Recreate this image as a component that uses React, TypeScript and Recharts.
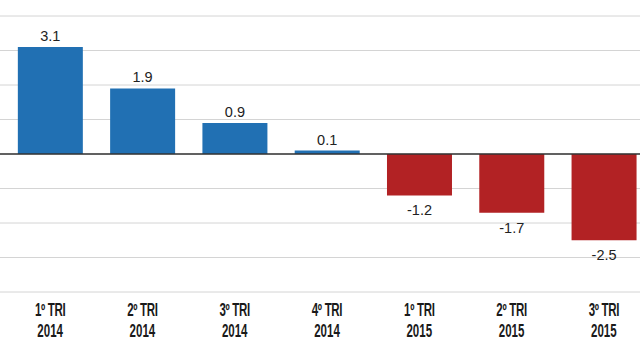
import React from "react";
import { BarChart, Bar, XAxis, YAxis, CartesianGrid, ReferenceLine, LabelList, Cell } from "recharts";

const quarters = ["1º TRI", "2º TRI", "3º TRI", "4º TRI", "1º TRI", "2º TRI", "3º TRI"];
const years = ["2014", "2014", "2014", "2014", "2015", "2015", "2015"];
const values = [3.1, 1.9, 0.9, 0.1, -1.2, -1.7, -2.5];
const yTicks = [-4, -3, -2, -1, 0, 1, 2, 3, 4];

const BLUE = "#2170b3";
const RED = "#b22224";

const data = quarters.map((q, i) => ({ key: `${q} ${years[i]}`, quarter: q, year: years[i], value: values[i] }));

// condensed look: no narrow font installed, so squeeze Liberation Sans horizontally
function QuarterTick(props: any) {
  const { x, y, index } = props;
  const item = data[index];
  if (!item) return null;
  const font = "'Liberation Sans', Arial, sans-serif";
  return (
    <g transform={`translate(${x}, ${y}) scale(0.64, 1)`}>
      <text x={0} y={24} textAnchor="middle" fill="#1a1a1a" fontSize={18} fontWeight="bold" letterSpacing={-0.5} fontFamily={font}>
        {item.quarter}
      </text>
      <text x={0} y={45} textAnchor="middle" fill="#1a1a1a" fontSize={18} fontWeight="bold" fontFamily={font}>
        {item.year}
      </text>
    </g>
  );
}

function ValueLabel(props: any) {
  const { x, y, width, height, value } = props;
  const top = Math.min(y, y + height);
  const bottom = Math.max(y, y + height);
  const ty = value >= 0 ? top - 6 : bottom + 20;
  return (
    <text x={x + width / 2} y={ty} textAnchor="middle" fill="#222" fontSize={14.5} fontFamily="'Liberation Sans', Arial, sans-serif">
      {value}
    </text>
  );
}

export default function App() {
  return (
    <div style={{ position: "fixed", left: 0, top: 0, width: 640, height: 362, overflow: "hidden", background: "#fff" }}>
      <BarChart
        width={660}
        height={362}
        data={data}
        margin={{ top: 16, right: 0, bottom: 0, left: 0 }}
        barCategoryGap="15%"
      >
        <CartesianGrid horizontal vertical={false} stroke="#d4d4d4" strokeWidth={1} />
        <XAxis
          dataKey="key"
          axisLine={false}
          tickLine={false}
          tickSize={0}
          tickMargin={0}
          height={70}
          interval={0}
          padding={{ left: 4, right: 10 }}
          tick={<QuarterTick />}
        />
        <YAxis hide width={0} domain={[-4, 4]} ticks={yTicks} />
        <Bar dataKey="value" isAnimationActive={false}>
          {data.map((d, i) => (
            <Cell key={i} fill={d.value >= 0 ? BLUE : RED} />
          ))}
          <LabelList dataKey="value" content={<ValueLabel />} />
        </Bar>
        <ReferenceLine y={0} stroke="#333" strokeWidth={1.5} />
      </BarChart>
    </div>
  );
}
